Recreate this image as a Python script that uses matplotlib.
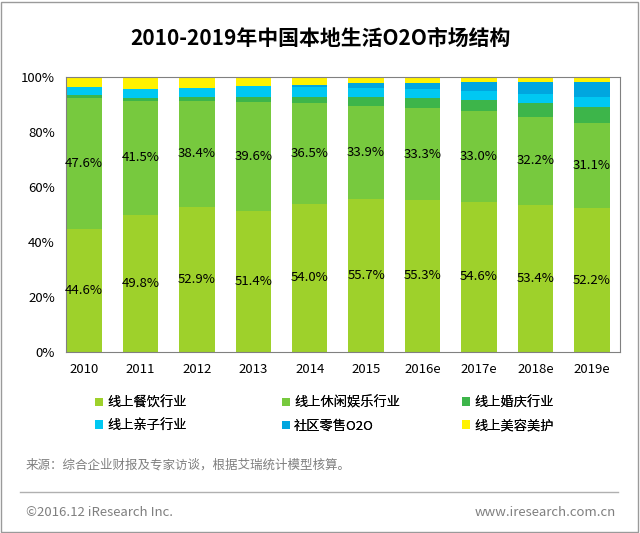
import numpy as np
import matplotlib
matplotlib.use('Agg')
from matplotlib import pyplot as plt
from matplotlib.patches import Rectangle
from matplotlib.lines import Line2D

plt.rcParams['font.family'] = ['Noto Sans CJK SC', 'DejaVu Sans']

years = ['2010', '2011', '2012', '2013', '2014', '2015', '2016e', '2017e', '2018e', '2019e']

food = [44.6, 49.8, 52.9, 51.4, 54.0, 55.7, 55.3, 54.6, 53.4, 52.2]
leisure = [47.6, 41.5, 38.4, 39.6, 36.5, 33.9, 33.3, 33.0, 32.2, 31.1]
wedding = [1.4, 1.1, 1.3, 1.8, 2.3, 3.2, 3.7, 4.1, 5.0, 5.7]
parent = [2.7, 3.1, 3.3, 3.8, 3.4, 3.1, 3.3, 3.3, 3.1, 3.7]
retail = [0.0, 0.0, 0.0, 0.0, 0.9, 2.1, 2.4, 3.2, 4.5, 5.5]
beauty = [3.7, 4.5, 4.1, 3.4, 2.9, 2.0, 2.0, 1.8, 1.8, 1.8]

series = [
    ('线上餐饮行业', food, '#9ed12b'),
    ('线上休闲娱乐行业', leisure, '#77c93e'),
    ('线上婚庆行业', wedding, '#3db54a'),
    ('线上亲子行业', parent, '#00c8f2'),
    ('社区零售O2O', retail, '#00a6df'),
    ('线上美容美护', beauty, '#fff200'),
]

W, H = 640, 533
fig = plt.figure(figsize=(W / 100, H / 100), dpi=100)

# outer frame
fig.patches.append(Rectangle((1 / W, 1 / H), 637 / W, 530 / H, transform=fig.transFigure,
                             fill=False, edgecolor='#9a9a9a', linewidth=1))

fig.text(320 / W, 1 - 38 / H, '2010-2019年中国本地生活O2O市场结构',
         ha='center', va='center', fontsize=15, fontweight='bold')

ax = fig.add_axes([66 / W, (H - 352) / H, (620 - 66) / W, (352 - 77) / H])

x = np.arange(len(years))
bottom = np.zeros(len(years))
bars = []
for name, vals, color in series:
    vals = np.array(vals)
    b = ax.bar(x, vals, 0.63, bottom=bottom, color=color, label=name, linewidth=0)
    bars.append(b)
    if name in ('线上餐饮行业', '线上休闲娱乐行业'):
        for xi, bi, v in zip(x, bottom, vals):
            ax.text(xi, bi + v / 2, f'{v:.1f}%', ha='center', va='center', fontsize=9.5)
    bottom += vals

ax.set_xlim(-0.32, 9.5)
ax.set_ylim(0, 100)
ax.set_xticks(x)
ax.set_xticklabels(years, fontsize=9.5)
ax.set_yticks(np.arange(0, 101, 20))
ax.set_yticklabels([f'{v}%' for v in range(0, 101, 20)], fontsize=9.5)
ax.tick_params(length=0, pad=8)
for s in ax.spines.values():
    s.set_color('#808080')
    s.set_linewidth(0.8)

# legend: three fixed columns, two rows
for col, (i, j) in enumerate([(0, 3), (1, 4), (2, 5)]):
    left = [90, 277, 457][col]
    leg = fig.legend([bars[i], bars[j]], [series[i][0], series[j][0]],
                     loc='upper left', bbox_to_anchor=(left / W, 1 - 391 / H),
                     frameon=False, fontsize=9.5, handlelength=0.6, handleheight=0.6,
                     handletextpad=0.3, labelspacing=0.75, borderaxespad=0)
    fig.add_artist(leg)

fig.text(26 / W, 1 - 465 / H, '来源：综合企业财报及专家访谈，根据艾瑞统计模型核算。',
         ha='left', va='center', fontsize=9, color='#7f7f7f')
fig.lines.append(Line2D([20 / W, 618 / W], [1 - 492 / H, 1 - 492 / H],
                        transform=fig.transFigure, color='#b0b0b0', linewidth=1))
fig.text(26 / W, 1 - 512 / H, '©2016.12 iResearch Inc.',
         ha='left', va='center', fontsize=9.5, color='#7f7f7f')
fig.text(616 / W, 1 - 512 / H, 'www.iresearch.com.cn',
         ha='right', va='center', fontsize=9.5, color='#7f7f7f')

fig.savefig('out.png', dpi=100)
